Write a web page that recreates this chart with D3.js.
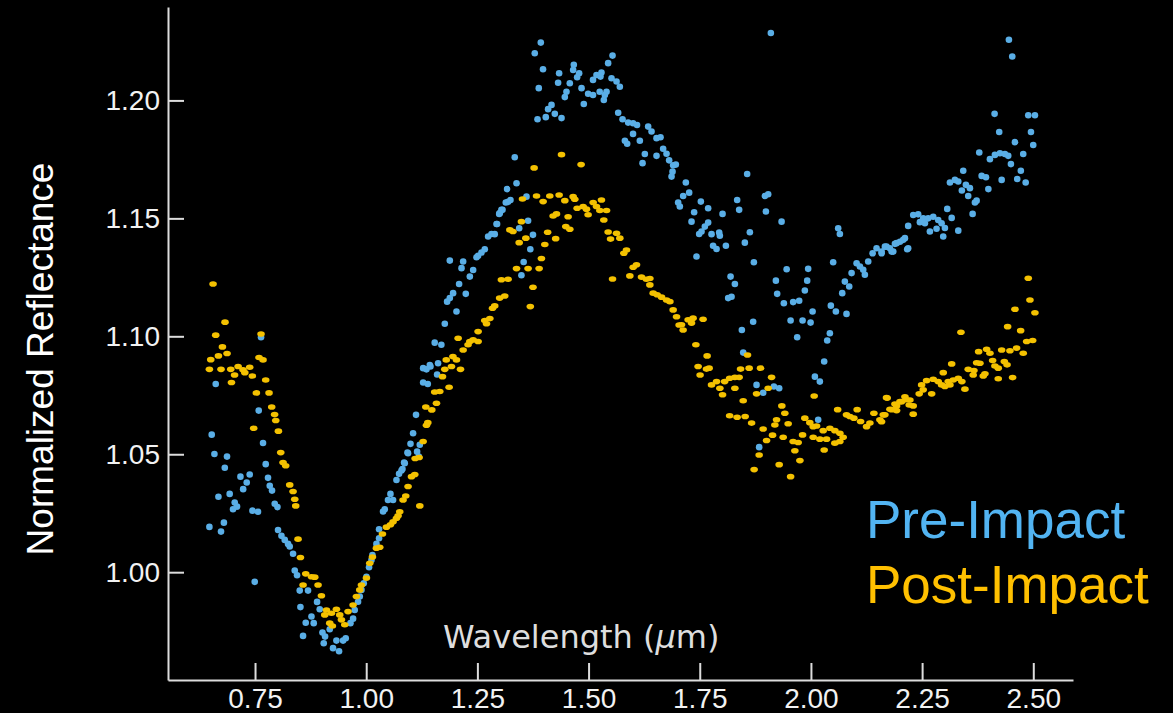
<!DOCTYPE html>
<html>
<head>
<meta charset="utf-8">
<script src="https://cdn.jsdelivr.net/npm/d3@7"></script>
<style>
  html, body { margin: 0; padding: 0; background: #000; }
  svg { display: block; }
  .axis path, .axis line { stroke: #dcdcdc; stroke-width: 2; }
  .axis text { fill: #f2f2f2; font-family: "Liberation Sans", Arial, sans-serif; font-size: 28px; }
</style>
</head>
<body>
<svg width="1173" height="713"></svg>
<script>
// spectra: [wavelength (um), normalized reflectance]
var preImpact = [
  [0.6616,1.0798],[0.7583,1.0685],[0.6526,1.0583],[0.6587,1.0501],[0.687,1.049],[0.768,1.0548],[0.774,1.0458],[0.682,1.0443],[0.7635,1.0996],
  [0.7172,1.0405],[0.738,1.0414],[0.7313,1.038],[0.7233,1.0352],[0.7792,1.040],[0.7831,1.0366],[0.7882,1.0346],[0.693,1.0332],[0.6677,1.032],
  [0.7043,1.0295],[0.7095,1.0278],[0.7005,1.0267],[0.7442,1.0261],[0.7567,1.0256],[0.7943,1.029],[0.8004,1.0276],[0.680,1.021],[0.6474,1.0192],
  [0.6735,1.0172],[0.8017,1.0179],[0.8094,1.0154],[0.8168,1.0137],[0.8242,1.012],[0.828,1.0109],[0.8355,1.0078],[0.7493,0.9959],[0.8393,1.0007],
  [0.8445,0.9987],[0.8505,0.9922],[0.8692,0.9922],[0.8895,0.9874],[0.8955,0.9843],[0.8521,0.9852],[0.8769,0.9812],[0.864,0.9786],[0.882,0.9784],
  [0.858,0.973],[0.9016,0.9744],[0.9075,0.9727],[0.9045,0.9699],[0.918,0.9758],[0.933,0.971],[0.948,0.971],[0.954,0.972],[0.9254,0.9678],
  [0.9389,0.9665],[0.9646,0.9784],[0.9705,0.9803],[0.9742,0.984],[0.9817,0.9875],[0.9855,0.9897],[0.9893,0.9925],[0.9945,0.9953],[1.0005,0.9981],
  [1.0064,1.0021],[1.0118,1.0052],[1.014,1.0073],[1.023,1.012],[1.0289,1.0144],[1.0289,1.0182],[1.0379,1.0257],[1.0417,1.0267],[1.049,1.0306],
  [1.0545,1.0332],[1.0604,1.0306],[1.068,1.0391],[1.0739,1.0417],[1.0793,1.0431],[1.0867,1.0462],[1.0941,1.0504],[1.1182,1.049],
  [1.0852,1.0465],[1.0815,1.0437],[1.0928,1.0507],[1.1144,1.0511],[1.0996,1.0544],[1.1205,1.054],[1.1054,1.0589],[1.112,1.0667],[1.128,1.0804],
  [1.1385,1.0798],[1.1355,1.086],[1.1445,1.0872],[1.1616,1.0886],[1.1594,1.0838],[1.154,1.0973],[1.143,1.0878],[1.128,1.0865],
  [1.1767,1.1053],[1.169,1.0964],[1.203,1.1105],[1.1954,1.1183],[1.188,1.1162],[1.1819,1.1147],[1.2239,1.118],[1.2089,1.1222],[1.2405,1.1281],
  [1.233,1.1253],[1.218,1.1317],[1.2143,1.1289],[1.188,1.1321],[1.2666,1.1369],[1.2592,1.1355],[1.2516,1.1341],[1.248,1.1335],[1.2817,1.1434],
  [1.2741,1.1423],[1.289,1.1433],[1.293,1.1476],[1.304,1.1536],[1.299,1.1519],[1.319,1.157],[1.364,1.149],[1.344,1.1458],[1.375,1.143],
  [1.369,1.1369],[1.354,1.1315],[1.349,1.1259],[1.334,1.1759],[1.338,1.1649],[1.3168,1.1624],[1.3244,1.1578],[1.3139,1.1567],[1.3065,1.1536],
  [1.3004,1.1522],[1.3604,1.1592],[1.2943,1.1476],
  [1.3926,1.2245],[1.379,1.220],[1.3976,1.2132],[1.4338,1.2115],[1.4315,1.2075],[1.4668,1.2151],[1.4653,1.2129],[1.4788,1.2115],[1.4743,1.2098],
  [1.388,1.2052],[1.4578,1.2073],[1.4503,1.2037],[1.4466,1.2014],[1.4842,1.2052],[1.4167,1.1981],[1.409,1.1963],[1.4241,1.1943],[1.4392,1.1925],
  [1.3852,1.192],[1.4038,1.1929],[1.4893,1.1985],[1.499,1.2028],[1.510,1.2023],[1.525,1.2037],[1.5366,1.2023],[1.5343,1.2002],[1.510,1.2087],
  [1.5178,1.2108],[1.529,1.2118],[1.5268,1.2101],[1.544,1.2158],[1.5539,1.219],[1.5404,1.2037],[1.5516,1.2094],[1.5629,1.208],[1.5703,1.2058],
  [1.5666,1.1948],[1.5764,1.192],[1.589,1.1906],[1.600,1.1903],[1.609,1.1896],[1.600,1.1858],[1.5817,1.1829],[1.5868,1.1816],[1.6153,1.1829],
  [1.634,1.1889],[1.6416,1.1868],[1.6528,1.184],[1.6618,1.1844],[1.6265,1.1773],[1.6528,1.1765],[1.6214,1.1734],[1.6677,1.1795],[1.6753,1.1774],
  [1.6812,1.1746],[1.6902,1.1725],[1.6962,1.1728],[1.6866,1.1677],[1.7014,1.1567],[1.6888,1.1698],[1.7187,1.1652],[1.7262,1.1609],[1.7127,1.1595],
  [1.7052,1.155],[1.8566,1.1688],[1.7525,1.1571],[1.7689,1.1543],[1.8341,1.1578],[1.8386,1.1536],[1.8964,1.1595],[1.9039,1.1602],[1.8987,1.1529],
  [1.7374,1.1526],[1.7315,1.1486],[1.8013,1.1519],[1.7689,1.1482],[1.7615,1.1465],[1.754,1.1444],[1.7487,1.1434],[1.7765,1.1433],[1.7937,1.144],
  [1.7952,1.1426],[1.934,1.1486],[1.8627,1.1441],[1.780,1.1384],[1.7878,1.137],[1.8088,1.1384],[1.8514,1.1397],[1.7427,1.1338],[1.8717,1.1314],
  [1.8193,1.1253],[1.829,1.1222],[1.8139,1.1162],[1.8215,1.1168],[1.9454,1.1284],[1.9938,1.1286],[1.9212,1.1236],[1.9916,1.1236],[1.9241,1.118],
  [1.9863,1.1194],[1.9391,1.114],[1.960,1.1145],[1.9736,1.1151],[2.0037,1.1105],[1.9543,1.1067],[1.9812,1.1067],[1.9992,1.1058],[1.9691,1.0996],
  [1.8701,1.1062],[1.8447,1.1027],[1.8477,1.0931],[2.0448,1.113],[2.0561,1.1105],[2.080,1.1095],[2.0426,1.1013],[2.0366,1.0982],[2.0298,1.0893],
  [2.0089,1.0829],[2.0201,1.0808],[1.8777,1.0794],[1.8926,1.0761],[1.9167,1.0787],[1.9286,1.078],[1.8836,1.053],[2.0163,1.0646],[1.9099,1.2286],
  [2.0613,1.1458],[2.0651,1.1434],[2.050,1.1314],[2.0704,1.1183],[2.0763,1.1232],[2.0861,1.1211],[2.0914,1.1268],[2.1027,1.131],[2.1101,1.1296],
  [2.1213,1.1261],[2.1176,1.1282],[2.1288,1.1317],[2.1387,1.1352],[2.1476,1.1373],[2.1589,1.1359],[2.170,1.138],[2.1814,1.1359],[2.1926,1.1395],
  [2.2075,1.1409],[2.2187,1.1373],[2.2187,1.1468],
  [2.4452,1.2257],[2.4527,1.2186],[2.413,1.1943],[2.4887,1.1937],[2.5037,1.1937],[2.4234,1.1866],[2.4948,1.1866],[2.4588,1.1823],[2.4999,1.1811],
  [2.3785,1.1779],[2.4025,1.1751],[2.4137,1.1769],[2.425,1.1776],[2.4362,1.1773],[2.4437,1.1765],[2.4774,1.1773],[2.4497,1.173],[2.3425,1.1702],
  [2.3839,1.168],[2.3936,1.1674],[2.472,1.1702],[2.4639,1.1667],[2.4289,1.1663],[2.4829,1.1652],[2.3126,1.1652],[2.3238,1.1663],[2.3313,1.1656],
  [2.3485,1.1642],[2.3575,1.1628],[2.3394,1.1618],[2.399,1.1624],[2.3537,1.1595],[2.3726,1.1575],[2.3688,1.1567],[2.3065,1.154],[2.3636,1.1519],
  [2.3165,1.1502],[2.3313,1.1448],[2.23,1.1514],[2.2412,1.1517],[2.2525,1.15],[2.2637,1.15],[2.275,1.1507],[2.2862,1.1493],[2.2938,1.1479],
  [2.2563,1.1479],[2.2675,1.1444],[2.245,1.1484],[2.3013,1.1459],[2.2825,1.1456],[2.2975,1.1423],[2.2114,1.1416],[2.2002,1.1401],[2.1889,1.1392],
  [2.1777,1.1373],[2.1663,1.138],[2.1589,1.1352],[2.1851,1.1359],[2.2165,1.1369]
];

var postImpact = [
  [0.6556,1.1222],[0.6825,1.106],[0.6616,1.1005],[0.6767,1.0955],[0.6871,1.0927],[0.6677,1.0917],[0.6504,1.0901],[0.6474,1.086],[0.6735,1.086],
  [0.6954,1.086],[0.712,1.0872],[0.723,1.0858],[0.738,1.0869],[0.727,1.0846],[0.704,1.0836],[0.697,1.0804],[0.744,1.0832],[0.7635,1.101],
  [0.759,1.091],[0.768,1.090],[0.774,1.0815],[0.753,1.076],[0.7815,1.076],[0.7875,1.070],[0.794,1.0668],[0.7966,1.0643],[0.747,1.061],
  [0.8026,1.0598],[0.8078,1.0507],[0.813,1.0465],[0.819,1.0451],
  [0.828,1.037],[0.8355,1.0342],[0.8393,1.0309],[0.8415,1.0281],[0.8467,1.014],[0.8521,1.0062],[0.864,0.9993],[0.8769,0.9981],[0.8843,0.9979],
  [0.858,0.9946],[0.8917,0.9946],[0.8993,0.99],[0.9106,0.984],[0.9218,0.9826],[0.933,0.9843],[0.9405,0.9819],[0.9068,0.9819],[0.918,0.9784],
  [0.924,0.9772],[0.9443,0.9798],[0.9518,0.9777],[0.9592,0.9833],[0.9705,0.9861],[0.978,0.9897],[0.9855,0.9925],[0.9893,0.9946],[1.0005,0.9975],
  [1.008,1.0038],[1.014,1.0064],[1.023,1.0102],[1.0304,1.0106],[1.0365,1.0162],[1.0455,1.0191],[1.0545,1.0201],[1.0604,1.0214],[1.068,1.0229],
  [1.0717,1.0239],[1.0754,1.0256],[1.1205,1.0281],[1.0829,1.0306],[1.0889,1.0323],[1.0941,1.0363],[1.1018,1.0405],[1.1092,1.0414],
  [1.110,1.0482],[1.119,1.0486],[1.128,1.0554],[1.1385,1.0634],[1.1355,1.0623],[1.134,1.070],[1.1475,1.0688],[1.158,1.0716],[1.154,1.0764],
  [1.1654,1.0766],[1.1864,1.0784],[1.1715,1.0829],[1.1917,1.0872],[1.1767,1.086],[1.212,1.086],[1.195,1.0914],[1.203,1.09],[1.180,1.09],
  [1.218,1.0942],[1.233,1.0978],[1.229,1.0964],[1.2405,1.0985],[1.2516,1.0978],[1.2067,1.0992],[1.2516,1.102],[1.2666,1.1067],[1.278,1.1075],
  [1.2705,1.1053],[1.284,1.1119],[1.289,1.1129],[1.369,1.1126],[1.300,1.1162],[1.3115,1.1171],[1.375,1.1208],[1.304,1.124],[1.319,1.1242],
  [1.364,1.1287],[1.338,1.1287],[1.3888,1.1287],[1.394,1.133],[1.344,1.1397],[1.359,1.1416],[1.323,1.1451],[1.330,1.1444],[1.349,1.1486],
  [1.408,1.1441],[1.4016,1.1389],[1.426,1.1414],
  [1.4392,1.177],[1.3776,1.1714],[1.4832,1.1728],[1.3514,1.1582],[1.383,1.1595],[1.3978,1.1571],[1.4128,1.1595],[1.4338,1.1599],[1.4466,1.1575],
  [1.4653,1.1592],[1.469,1.1581],[1.4203,1.151],[1.4279,1.1519],[1.454,1.1507],[1.4743,1.1543],[1.4878,1.155],[1.499,1.1515],[1.5103,1.1567],
  [1.5178,1.155],[1.529,1.1578],[1.5253,1.1533],[1.5404,1.1533],[1.4953,1.1539],[1.5343,1.1493],[1.4488,1.1465],[1.4578,1.1454],[1.544,1.1442],
  [1.5629,1.1437],[1.5703,1.1416],[1.5494,1.1412],[1.5853,1.1366],[1.5793,1.1352],[1.6078,1.1303],[1.6003,1.1293],[1.5928,1.1256],[1.5539,1.1243],
  [1.619,1.1251],[1.630,1.1242],[1.6378,1.1245],[1.6378,1.1218],[1.6453,1.1183],[1.6542,1.1176],[1.6641,1.1166],[1.6753,1.1154],[1.6828,1.1147],
  [1.6902,1.1112],[1.6978,1.1083],[1.7036,1.1048],[1.7090,1.1049],[1.7126,1.1027],[1.7239,1.107],[1.7315,1.1056],[1.735,1.1077],[1.7575,1.1072],
  [1.7413,1.0964],[1.7666,1.0917],[1.7463,1.0872],[1.7652,1.0861],[1.7711,1.0865],[1.7508,1.0836],[1.8418,1.0861],[1.8611,1.0865],[1.8867,1.0865],
  [1.7765,1.0794],[1.7878,1.0808],[1.7952,1.078],[1.8013,1.0752],[1.806,1.0808],[1.8172,1.0822],[1.829,1.0826],[1.8386,1.0826],[1.829,1.078],
  [1.8574,1.0921],[1.8477,1.0727],[1.8777,1.0756],[1.9039,1.078],[1.9115,1.0826],[1.9346,1.0705],[1.9413,1.0674],[1.9227,1.0646],[1.9189,1.0624],
  [1.9488,1.0629],[2.0073,1.0747],[1.9863,1.0653],[1.9975,1.0634],[2.0051,1.0617],[2.0127,1.062],[1.8172,1.0663],[1.8341,1.0657],[1.8521,1.066],
  [1.8666,1.0632],[1.8926,1.0607],[1.9137,1.0581],[1.9376,1.0572],[1.9002,1.0558],[1.9812,1.0582],[1.960,1.0554],[1.9713,1.055],[2.0051,1.0572],
  [2.0201,1.0564],[2.0351,1.0564],[2.0276,1.06],[2.0426,1.061],[2.0538,1.06],[2.0651,1.0589],[2.0725,1.0572],[2.0538,1.0547],[2.0651,1.0554],
  [2.0298,1.0518],[1.9639,1.0515],[1.9752,1.0473],[1.9286,1.0456],[1.8836,1.0497],[1.8723,1.0435],[1.9543,1.0405],
  [2.0601,1.0689],[2.080,1.0667],[2.0876,1.066],[2.0966,1.0653],[2.104,1.0689],[2.1117,1.0639],[2.1251,1.0617],[2.1326,1.0632],[2.1416,1.0674],
  [2.1551,1.0646],[2.1663,1.0667],[2.1715,1.0738],[2.1814,1.0689],[2.1926,1.0705],[2.2039,1.0723],[2.2151,1.0731],[2.221,1.0709],
  [2.2114,1.0744],[2.2226,1.073],[2.2002,1.0723],[2.1889,1.0713],[2.230,1.0705],[2.170,1.074],[2.1777,1.0691],[2.1926,1.0685],[2.1626,1.0667],
  [2.1589,1.0638],[2.230,1.067],
  [2.260,1.0812],[2.275,1.0818],[2.2862,1.0808],[2.2938,1.0794],[2.3087,1.0808],[2.32,1.0815],[2.3313,1.0822],[2.3394,1.0808],[2.2489,1.0794],
  [2.2525,1.0773],[2.2435,1.0756],[2.2715,1.0756],[2.3013,1.0787],[2.3126,1.0794],[2.3463,1.0776],[2.2975,1.0846],[2.3165,1.0883],[2.3537,1.086],
  [2.3665,1.0855],[2.380,1.0886],[2.3726,1.0888],[2.3649,1.0836],[2.3913,1.0841],[2.3875,1.0832],[2.4212,1.082],[2.4535,1.0825],[2.4086,1.0897],
  [2.4137,1.0874],[2.4212,1.0865],[2.4349,1.0893],[2.441,1.0879],[2.3771,1.0935],[2.3951,1.0945],[2.4025,1.0928],[2.4289,1.0942],[2.4475,1.0939],
  [2.4625,1.095],[2.4774,1.0928],[2.3373,1.1017],[2.4851,1.0978],[2.4986,1.0982],[2.4423,1.1041],[2.4716,1.1024],[2.4588,1.1115],[2.4887,1.1246],
  [2.4925,1.1154],[2.5037,1.11]
];

var xTicks = [0.75, 1.00, 1.25, 1.50, 1.75, 2.00, 2.25, 2.50];
var yTicks = [1.00, 1.05, 1.10, 1.15, 1.20];
var legendLabels = ["Pre-Impact", "Post-Impact"];

var svg = d3.select("svg");

var x = d3.scaleLinear().domain([0.5543, 2.5893]).range([168, 1073]),
    y = d3.scaleLinear().domain([0.9543, 1.2396]).range([680, 7]);

var colors = { pre: "#5aaee6", post: "#f4c100" };

// axes, ticks point inward
svg.append("g")
   .attr("class", "axis axis--x")
   .attr("transform", "translate(0,680)")
   .call(d3.axisBottom(x).tickValues(xTicks).tickFormat(d3.format(".2f"))
     .tickSizeInner(-17).tickSizeOuter(0).tickPadding(8));

svg.append("g")
   .attr("class", "axis axis--y")
   .attr("transform", "translate(168,0)")
   .call(d3.axisLeft(y).tickValues(yTicks).tickFormat(d3.format(".2f"))
     .tickSizeInner(-16).tickSizeOuter(0).tickPadding(8));

// pre-impact dots (round)
svg.append("g")
   .selectAll("circle")
   .data(preImpact)
   .enter().append("circle")
   .attr("cx", function(d) { return x(d[0]); })
   .attr("cy", function(d) { return y(d[1]); })
   .attr("r", 3.3)
   .attr("fill", colors.pre);

// post-impact dots (slightly flattened)
svg.append("g")
   .selectAll("ellipse")
   .data(postImpact)
   .enter().append("ellipse")
   .attr("cx", function(d) { return x(d[0]); })
   .attr("cy", function(d) { return y(d[1]); })
   .attr("rx", 3.8)
   .attr("ry", 2.8)
   .attr("fill", colors.post);

// axis titles
svg.append("text")
   .attr("text-anchor", "middle")
   .attr("transform", "translate(53,359)rotate(-90)")
   .attr("fill", "#ffffff")
   .style("font-family", "'Liberation Sans', Arial, sans-serif")
   .style("font-size", "37px")
   .text("Normalized Reflectance");

var xLabel = svg.append("text")
   .attr("x", 443)
   .attr("y", 648)
   .attr("fill", "#dedede")
   .style("font-family", "'DejaVu Sans', sans-serif")
   .style("font-size", "32px");
xLabel.append("tspan").text("Wavelength (");
xLabel.append("tspan").style("font-style", "italic").text("\u03bc");
xLabel.append("tspan").text("m)");

// legend as coloured words
svg.append("g")
   .selectAll("text")
   .data(legendLabels)
   .enter().append("text")
   .attr("x", 866)
   .attr("y", function(d, i) { return 538 + i * 65; })
   .attr("fill", function(d, i) { return i === 0 ? "#52b4f2" : "#ffc000"; })
   .style("font-family", "'Liberation Sans', Arial, sans-serif")
   .style("font-size", "53px")
   .text(function(d) { return d; });
</script>
</body>
</html>
